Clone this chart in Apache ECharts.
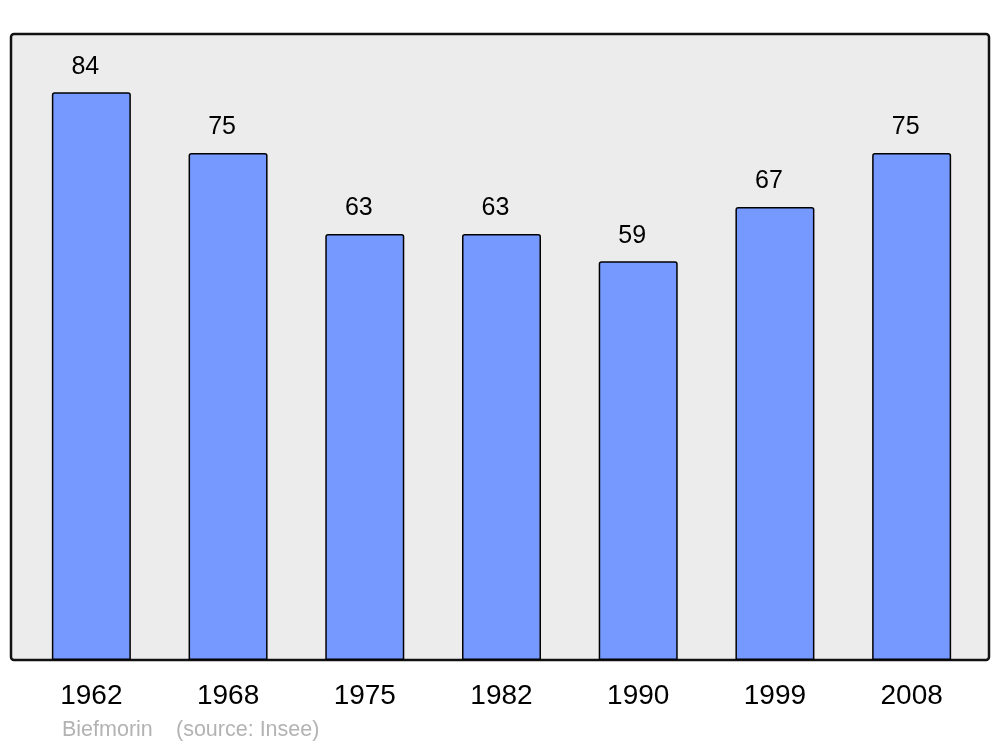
<!DOCTYPE html>
<html><head><meta charset="utf-8">
<script src="https://cdn.jsdelivr.net/npm/echarts@6/dist/echarts.min.js"></script>
<style>html,body{margin:0;padding:0;background:#fff}#c{width:1000px;height:747px}</style>
</head><body><div id="c"></div>
<script>
var years = ['1962','1968','1975','1982','1990','1999','2008'];
var population = [84, 75, 63, 63, 59, 67, 75];
var sourceName = 'Biefmorin';
var sourceNote = '(source: Insee)';

var chart = echarts.init(document.getElementById('c'), null, {renderer:'canvas'});
chart.setOption({
  animation: false,
  backgroundColor: '#ffffff',
  graphic: [
    {type:'rect', z:-10, shape:{x:11, y:34, width:978, height:626, r:3},
     style:{fill:'#ececec', stroke:'#111', lineWidth:2.5}},
    {type:'text', left:62, top:719, style:{text:sourceName, fill:'#b3b3b3', font:'21.5px "Liberation Sans", Arial, sans-serif'}},
    {type:'text', left:176, top:719, style:{text:sourceNote, fill:'#b3b3b3', font:'21.5px "Liberation Sans", Arial, sans-serif'}}
  ],
  grid: {left:23, right:20, top:34, bottom:87, containLabel:false},
  xAxis: {
    type:'category', data: years,
    axisLine:{show:false}, axisTick:{show:false},
    axisLabel:{color:'#000', fontSize:28, fontFamily:'"Liberation Sans", Arial, sans-serif', margin:22}
  },
  yAxis: {
    type:'value', min:0, max:92.6,
    axisLine:{show:false}, axisTick:{show:false}, axisLabel:{show:false}, splitLine:{show:false}
  },
  series: [{
    type:'bar', data: population, barWidth:79,
    itemStyle:{color:'#7599ff', borderColor:'#000', borderWidth:1.5, borderRadius:[2,2,0,0]},
    label:{show:true, position:'top', distance:13, offset:[-6,0], color:'#000', fontSize:25,
      fontFamily:'"Liberation Sans", Arial, sans-serif'}
  }]
});
</script></body></html>
